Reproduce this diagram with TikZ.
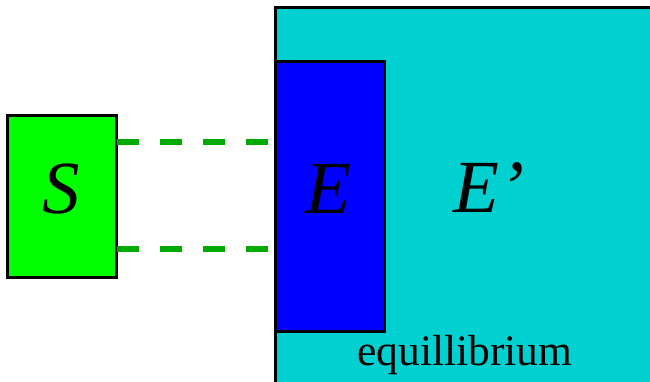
\documentclass[tikz,border=0pt]{standalone}
\usepackage{fontspec}
\setmainfont{Liberation Serif}
\begin{document}
\begin{tikzpicture}[x=1pt,y=-1pt,
  box/.style={draw=black,line width=2.6pt,inner sep=0pt,outer sep=0pt},
  bigletter/.style={font=\fontsize{75}{80}\selectfont\itshape,inner sep=0pt,anchor=base},
  dashline/.style={draw={rgb,255:red,0;green,170;blue,0},line width=6pt,dash pattern=on 22pt off 21pt}]
\useasboundingbox (0,0) rectangle (650,382);
\clip (0,0) rectangle (650,382);
\definecolor{cyanfill}{RGB}{0,208,208}
\definecolor{greenfill}{RGB}{0,255,0}
\definecolor{bluefill}{RGB}{0,0,255}
\node[box,fill=cyanfill,anchor=north west,minimum width=420pt,minimum height=420pt] (Eprime) at (275.5,7.5) {};
\node[box,fill=bluefill,anchor=north west,minimum width=109pt,minimum height=270pt] (E) at (276,61.5) {};
\node[box,fill=greenfill,anchor=north west,minimum width=109pt,minimum height=162pt] (S) at (7.5,115.5) {};
\coordinate (ytop) at (0,142);
\coordinate (ybot) at (0,249);
\draw[dashline] (S.east |- ytop) -- (E.west |- ytop);
\draw[dashline] (S.east |- ybot) -- (E.west |- ybot);
\node[bigletter] (Slabel) at (61,213) {S};
\node[bigletter] (Elabel) at (328,213) {E};
\node[bigletter] (Eplabel) at (489,212) {E’};
\node[font=\fontsize{43.5}{48}\selectfont,inner sep=0pt,anchor=base] (eq) at (465,365) {equillibrium};
\end{tikzpicture}
\end{document}
